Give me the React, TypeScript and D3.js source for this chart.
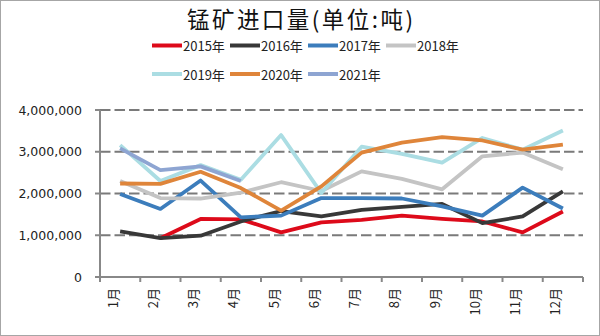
import React from "react";
import * as d3 from "d3";

const months = ["1月", "2月", "3月", "4月", "5月", "6月", "7月", "8月", "9月", "10月", "11月", "12月"];
const yTicks = [0, 1000000, 2000000, 3000000, 4000000];

const s2015 = [null, 930000, 1390000, 1380000, 1070000, 1310000, 1370000, 1470000, 1390000, 1330000, 1070000, 1570000];
const s2016 = [1090000, 930000, 990000, 1330000, 1580000, 1450000, 1610000, 1680000, 1750000, 1290000, 1450000, 2050000];
const s2017 = [1990000, 1630000, 2310000, 1430000, 1470000, 1890000, 1890000, 1880000, 1690000, 1470000, 2140000, 1640000];
const s2018 = [2300000, 1890000, 1880000, 2020000, 2270000, 2060000, 2530000, 2350000, 2100000, 2890000, 2980000, 2580000];
const s2019 = [3160000, 2300000, 2680000, 2330000, 3400000, 2010000, 3120000, 2950000, 2740000, 3330000, 3050000, 3510000];
const s2020 = [2240000, 2230000, 2520000, 2130000, 1590000, 2170000, 2980000, 3220000, 3350000, 3270000, 3050000, 3170000];
const s2021 = [3080000, 2560000, 2650000, 2300000, null, null, null, null, null, null, null, null];

const seriesNames = ["2015年", "2016年", "2017年", "2018年", "2019年", "2020年", "2021年"];
const seriesData = [s2015, s2016, s2017, s2018, s2019, s2020, s2021];
const seriesColors = ["#DD0A1A", "#383838", "#3C7DBC", "#C4C4C4", "#ABDDE3", "#DF853A", "#8EA5D2"];

export default function App() {
  const W = 600, H = 336;
  const left = 100, right = 583, top = 110, bottom = 277;
  const x = d3.scaleBand<string>().domain(months).range([left, right]).padding(0);
  const y = d3.scaleLinear().domain([0, 4000000]).range([bottom, top]);
  const cx = (m: string) => (x(m) as number) + x.bandwidth() / 2;
  const line = d3
    .line<number | null>()
    .defined((d) => d !== null)
    .x((_, i) => cx(months[i]))
    .y((d) => y(d as number));
  const fmt = d3.format(",");
  const tickXs = months.map((m) => x(m) as number).concat([right]);

  const legendPos = [
    [152, 45.5], [230, 45.5], [308, 45.5], [386, 45.5],
    [152, 74], [230, 74], [308, 74],
  ];

  return (
    <svg width={W} height={H} style={{ position: "absolute", left: 0, top: 0, background: "#fff" }}>
      <rect x={0.5} y={0.5} width={W - 1} height={H - 1} fill="#fff" stroke="#a6a6a6" />
      <text x={300} y={28} textAnchor="middle" fontFamily="'Noto Sans CJK SC'" fontSize={22.5} fill="#111" textLength={226} lengthAdjust="spacing">
        锰矿进口量(单位:吨)
      </text>
      {seriesNames.map((n, i) => (
        <g key={n}>
          <line x1={legendPos[i][0]} x2={legendPos[i][0] + 30} y1={legendPos[i][1]} y2={legendPos[i][1]} stroke={seriesColors[i]} strokeWidth={4} />
          <text x={legendPos[i][0] + 31} y={legendPos[i][1]} dominantBaseline="central" fontFamily="'Noto Sans CJK SC'" fontSize={13} fill="#222">
            {n}
          </text>
        </g>
      ))}
      {yTicks.filter((t) => t > 0).map((t) => (
        <line key={t} x1={left} x2={right} y1={y(t)} y2={y(t)} stroke="#7a7a7a" strokeWidth={2} strokeDasharray="10.5,4" />
      ))}
      {yTicks.map((t) => (
        <g key={"yt" + t}>
          <line x1={left - 5} x2={left} y1={y(t)} y2={y(t)} stroke="#888" strokeWidth={2} />
          <text x={82} y={y(t)} textAnchor="end" dominantBaseline="central" fontFamily="'DejaVu Sans'" fontSize={12.5} fill="#222">
            {fmt(t)}
          </text>
        </g>
      ))}
      <line x1={left} x2={left} y1={top} y2={bottom} stroke="#888" strokeWidth={2} />
      <line x1={left} x2={right} y1={bottom} y2={bottom} stroke="#888" strokeWidth={2} />
      {tickXs.map((tx, i) => (
        <line key={"xt" + i} x1={tx} x2={tx} y1={bottom} y2={bottom + 5} stroke="#888" strokeWidth={2} />
      ))}
      {months.map((m) => (
        <text
          key={m}
          transform={`translate(${cx(m) - 8},288) rotate(-90)`}
          textAnchor="end"
          dominantBaseline="central"
          fontFamily="'Noto Sans CJK SC'"
          fontSize={13}
          fill="#222"
        >
          {m}
        </text>
      ))}
      {seriesData.map((d, i) => (
        <path key={i} d={line(d) || ""} fill="none" stroke={seriesColors[i]} strokeWidth={3.8} strokeLinejoin="round" />
      ))}
    </svg>
  );
}
